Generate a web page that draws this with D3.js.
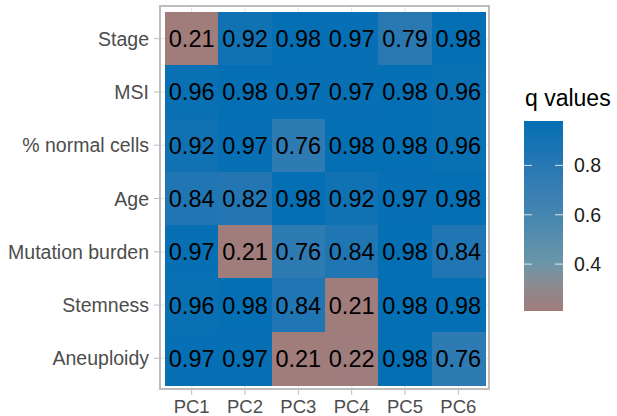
<!DOCTYPE html>
<html>
<head>
<meta charset="utf-8">
<script src="https://cdn.jsdelivr.net/npm/d3@7"></script>
<style>
  html, body { margin: 0; padding: 0; background: #fff; }
  svg { display: block; font-family: "Liberation Sans", Arial, Helvetica, sans-serif; }
</style>
</head>
<body>
<svg id="chart" width="617" height="416"></svg>
<script>
// Clinical covariates (rows) and principal components (columns)
const covariates = ["Stage", "MSI", "% normal cells", "Age", "Mutation burden", "Stemness", "Aneuploidy"];
const components = ["PC1", "PC2", "PC3", "PC4", "PC5", "PC6"];

// q values, one array per covariate, ordered PC1..PC6
const qStage      = [0.21, 0.92, 0.98, 0.97, 0.79, 0.98];
const qMSI        = [0.96, 0.98, 0.97, 0.97, 0.98, 0.96];
const qNormal     = [0.92, 0.97, 0.76, 0.98, 0.98, 0.96];
const qAge        = [0.84, 0.82, 0.98, 0.92, 0.97, 0.98];
const qMutation   = [0.97, 0.21, 0.76, 0.84, 0.98, 0.84];
const qStemness   = [0.96, 0.98, 0.84, 0.21, 0.98, 0.98];
const qAneuploidy = [0.97, 0.97, 0.21, 0.22, 0.98, 0.76];

const legendTicks = [0.4, 0.6, 0.8];

const rowsQ = [qStage, qMSI, qNormal, qAge, qMutation, qStemness, qAneuploidy];
const cells = [];
covariates.forEach((cov, i) => {
  components.forEach((pc, j) => cells.push({ cov, pc, q: rowsQ[i][j] }));
});

const svg = d3.select("#chart");

const panel = { left: 160, right: 489, top: 6, bottom: 389 };
const x = d3.scaleBand().domain(components).range([165, 485]);
const y = d3.scaleBand().domain(covariates).range([12, 385]);

const extent = d3.extent(cells, d => d.q);
// colour ramp: dusty rose -> slate -> teal grey -> steel blue -> deep blue
const rampT = [0, 0.15, 0.25, 0.5, 0.75, 1];
const rampC = ["#a07c7a", "#8a8c94", "#6a96a8", "#4686b0", "#2a78b2", "#056fb3"];
const color = d3.scaleLinear()
  .domain(rampT.map(t => extent[0] + t * (extent[1] - extent[0])))
  .range(rampC)
  .interpolate(d3.interpolateRgb);

// grid lines behind the tiles
const grid = svg.append("g");
grid.selectAll("line.gx").data(components).join("line")
  .attr("x1", d => x(d) + x.bandwidth() / 2).attr("x2", d => x(d) + x.bandwidth() / 2)
  .attr("y1", panel.top).attr("y2", panel.bottom)
  .attr("stroke", "#e3e3e3").attr("stroke-width", 1);
grid.selectAll("line.gy").data(covariates).join("line")
  .attr("y1", d => y(d) + y.bandwidth() / 2).attr("y2", d => y(d) + y.bandwidth() / 2)
  .attr("x1", panel.left).attr("x2", panel.right)
  .attr("stroke", "#e3e3e3").attr("stroke-width", 1);

// tiles
svg.append("g").selectAll("rect").data(cells).join("rect")
  .attr("x", d => x(d.pc))
  .attr("y", d => y(d.cov))
  .attr("width", x.bandwidth() + 0.6)
  .attr("height", y.bandwidth() + 0.6)
  .attr("shape-rendering", "crispEdges")
  .attr("fill", d => color(d.q));

// value labels
svg.append("g").selectAll("text").data(cells).join("text")
  .attr("x", d => x(d.pc) + x.bandwidth() / 2)
  .attr("y", d => y(d.cov) + y.bandwidth() / 2)
  .attr("text-anchor", "middle")
  .attr("dy", "0.36em")
  .attr("font-size", "23.5px")
  .attr("fill", "#000")
  .text(d => d3.format(".2f")(d.q));

// panel border
svg.append("rect")
  .attr("x", panel.left).attr("y", panel.top)
  .attr("width", panel.right - panel.left).attr("height", panel.bottom - panel.top)
  .attr("fill", "none").attr("stroke", "#bdbdbd").attr("stroke-width", 2);

// y axis
const yAxis = svg.append("g");
yAxis.selectAll("line").data(covariates).join("line")
  .attr("x1", panel.left - 6).attr("x2", panel.left - 1)
  .attr("y1", d => y(d) + y.bandwidth() / 2).attr("y2", d => y(d) + y.bandwidth() / 2)
  .attr("stroke", "#bdbdbd").attr("stroke-width", 1);
yAxis.selectAll("text").data(covariates).join("text")
  .attr("x", panel.left - 11)
  .attr("y", d => y(d) + y.bandwidth() / 2)
  .attr("dy", "0.36em")
  .attr("text-anchor", "end")
  .attr("font-size", "19.5px")
  .attr("fill", "#4d4d4d")
  .text(d => d);

// x axis
const xAxis = svg.append("g");
xAxis.selectAll("line").data(components).join("line")
  .attr("x1", d => x(d) + x.bandwidth() / 2).attr("x2", d => x(d) + x.bandwidth() / 2)
  .attr("y1", panel.bottom + 1).attr("y2", panel.bottom + 6)
  .attr("stroke", "#bdbdbd").attr("stroke-width", 1);
xAxis.selectAll("text").data(components).join("text")
  .attr("x", d => x(d) + x.bandwidth() / 2)
  .attr("y", 413)
  .attr("text-anchor", "middle")
  .attr("font-size", "18.5px")
  .attr("fill", "#4d4d4d")
  .text(d => d);

// colour bar legend
const bar = { x: 524, y: 121, w: 39, h: 190 };
const ly = d3.scaleLinear().domain(extent).range([bar.y + bar.h, bar.y]);

const defs = svg.append("defs");
const grad = defs.append("linearGradient")
  .attr("id", "qgrad").attr("x1", 0).attr("y1", 1).attr("x2", 0).attr("y2", 0);
d3.range(0, 1.0001, 0.05).forEach(t => {
  grad.append("stop")
    .attr("offset", t)
    .attr("stop-color", color(extent[0] + t * (extent[1] - extent[0])));
});

svg.append("text")
  .attr("x", 525).attr("y", 106)
  .attr("font-size", "23px")
  .attr("fill", "#000")
  .text("q values");

svg.append("rect")
  .attr("x", bar.x).attr("y", bar.y)
  .attr("width", bar.w).attr("height", bar.h)
  .attr("fill", "url(#qgrad)");

const lt = svg.append("g");
legendTicks.forEach(v => {
  lt.append("line")
    .attr("x1", bar.x).attr("x2", bar.x + 8)
    .attr("y1", ly(v)).attr("y2", ly(v))
    .attr("stroke", "#fff").attr("stroke-opacity", 0.8).attr("stroke-width", 1);
  lt.append("line")
    .attr("x1", bar.x + bar.w - 8).attr("x2", bar.x + bar.w)
    .attr("y1", ly(v)).attr("y2", ly(v))
    .attr("stroke", "#fff").attr("stroke-opacity", 0.8).attr("stroke-width", 1);
  lt.append("text")
    .attr("x", 574).attr("y", ly(v))
    .attr("dy", "0.36em")
    .attr("font-size", "19.5px")
    .attr("fill", "#1a1a1a")
    .text(v.toFixed(1));
});
</script>
</body>
</html>
